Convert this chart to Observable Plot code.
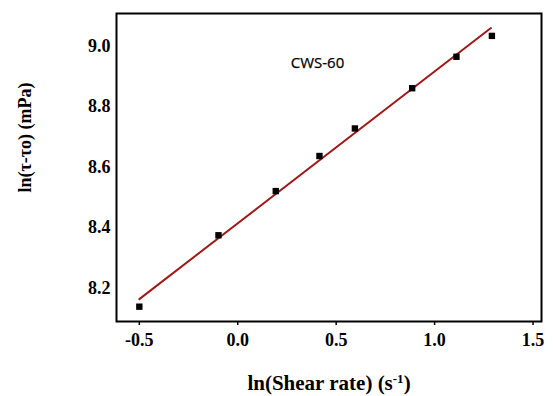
<!DOCTYPE html>
<html>
<head>
<meta charset="utf-8">
<script src="https://cdn.jsdelivr.net/npm/d3@7"></script>
<script src="https://cdn.jsdelivr.net/npm/@observablehq/plot@0.6"></script>
<style>
  html, body { margin: 0; padding: 0; background: #fff; }
  #chart svg { display: block; }
</style>
</head>
<body>
<div id="chart"></div>
<script>
// Measured data points
const shearLn = [-0.5, -0.098, 0.193, 0.415, 0.595, 0.886, 1.111, 1.291];
const stressLn = [8.138, 8.374, 8.520, 8.636, 8.727, 8.860, 8.964, 9.033];
// Fitted line endpoints
const fitX = [-0.5, 1.286];
const fitY = [8.163, 9.059];
// Ticks
const xTicks = [-0.5, 0.0, 0.5, 1.0, 1.5];
const yTicks = [8.2, 8.4, 8.6, 8.8, 9.0];
// Annotation
const seriesName = ["CWS-60"];
const seriesLabelX = [0.405];
const seriesLabelY = [8.944];
const xTitleParts = ["ln(Shear rate) (s", "-1", ")"];
const yTitle = "ln(τ-τo) (mPa)";

const points = shearLn.map((x, i) => ({x, y: stressLn[i]}));
const fit = fitX.map((x, i) => ({x, y: fitY[i]}));
const note = seriesName.map((t, i) => ({t, x: seriesLabelX[i], y: seriesLabelY[i]}));
const xTitle = xTitleParts.join("");

const serif = "'Liberation Serif', 'Times New Roman', serif";

const chart = Plot.plot({
  width: 553,
  height: 396,
  marginLeft: 116,
  marginRight: 12,
  marginTop: 13,
  marginBottom: 75,
  style: {fontFamily: serif, background: "#fff", overflow: "visible"},
  x: {domain: [-0.616, 1.543], ticks: xTicks, tickFormat: d => d.toFixed(1)},
  y: {domain: [8.089, 9.107], ticks: yTicks, tickFormat: d => d.toFixed(1)},
  marks: [
    Plot.axisX({ticks: xTicks, tickFormat: d => d.toFixed(1), tickSize: 4, tickPadding: 8,
      fontSize: 18, fontWeight: "bold", label: null, stroke: "#000", strokeWidth: 1.5, fill: "#000"}),
    Plot.axisY({ticks: yTicks, tickFormat: d => d.toFixed(1), tickSize: 0, tickPadding: 6,
      fontSize: 18, fontWeight: "bold", label: null, fill: "#000"}),
    Plot.line(fit, {x: "x", y: "y", stroke: "#a01818", strokeWidth: 2}),
    Plot.dot(points, {x: "x", y: "y", symbol: "square", r: 3.6, fill: "#000", stroke: "none"}),
    Plot.text(note, {x: "x", y: "y", text: "t", fontFamily: "'Open Sans', sans-serif", fontSize: 15, fill: "#000", stroke: "#000", strokeWidth: 0.25}),
    Plot.frame({stroke: "#000", strokeWidth: 2}),
    Plot.text([xTitle], {frameAnchor: "bottom", textAnchor: "middle", lineAnchor: "middle", dy: 62, dx: 0, fontSize: 21, fontWeight: "bold", fill: "#000"}),
    Plot.text([yTitle], {frameAnchor: "left", textAnchor: "middle", lineAnchor: "middle", dx: -91, dy: -30, rotate: -90, fontSize: 18, fontWeight: "bold", fill: "#000"})
  ]
});

// Render the superscript of the x title as a raised tspan
d3.select(chart).selectAll("text").filter(function() { return this.textContent === xTitle; })
  .each(function() {
    const t = d3.select(this);
    t.text(null);
    t.append("tspan").text(xTitleParts[0]);
    t.append("tspan").attr("font-size", 13).attr("dy", -7).text(xTitleParts[1]);
    t.append("tspan").attr("dy", 7).text(xTitleParts[2]);
  });

document.getElementById("chart").appendChild(chart);
</script>
</body>
</html>
